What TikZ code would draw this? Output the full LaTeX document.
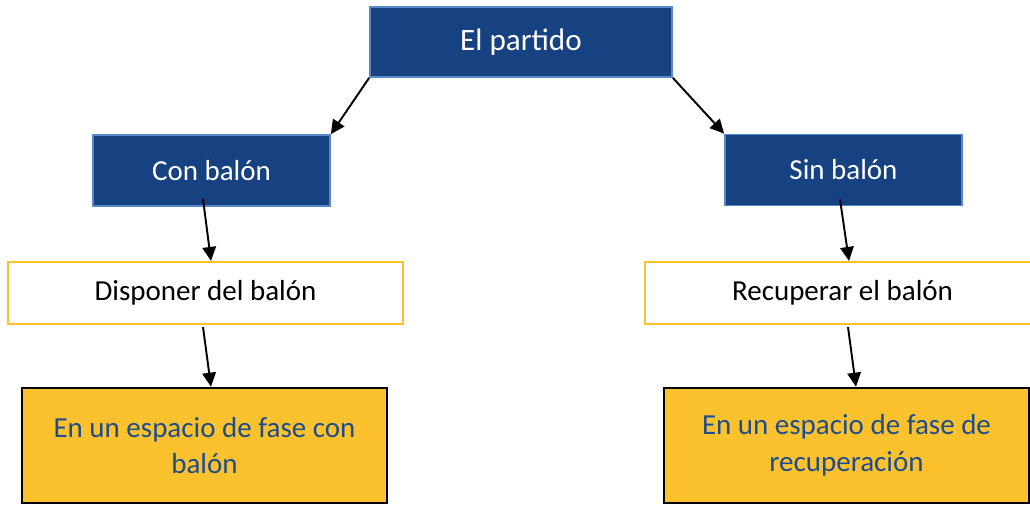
\documentclass[tikz,border=0pt]{standalone}
\usepackage{fontspec}
\setmainfont{Carlito}
\usetikzlibrary{arrows.meta}
\definecolor{boxblue}{RGB}{23,66,130}
\definecolor{boxblueline}{RGB}{88,136,200}
\definecolor{gold}{RGB}{251,194,45}
\definecolor{goldtext}{RGB}{30,76,140}
\begin{document}
\begin{tikzpicture}[-{Triangle[length=0.28cm,width=0.27cm]}, line width=1.1pt,
    main box/.style={rectangle, draw=boxblueline, line width=1pt, fill=boxblue, text=white, inner sep=0pt},
    sub box/.style={main box, minimum width=4.74cm, minimum height=1.42cm},
    action box/.style={rectangle, draw=gold, line width=1.2pt, fill=white, inner sep=0pt, minimum width=7.9cm, minimum height=1.24cm},
    phase box/.style={rectangle, draw=black, line width=1.5pt, fill=gold, text=goldtext, inner sep=0pt, minimum width=7.3cm, minimum height=2.3cm, align=center}]
           \tikzstyle{every node}=[font=\fontsize{16.5}{21}\selectfont]
           \useasboundingbox (0,0) rectangle (20.6,-10.1);

             \node[main box, minimum width=6.04cm, minimum height=1.4cm, font=\fontsize{17.7}{21}\selectfont] (1) at (10.42,-0.84) {El partido};
             \node[sub box] (2) [below of=1, node distance=2.57cm, xshift=-6.19cm] {Con balón};
             \node[sub box] (3) [below of=1, node distance=2.56cm, xshift=6.45cm] {Sin balón};
             \node[action box] (4) [below of=2, node distance=2.45cm, xshift=-0.12cm] {Disponer del balón};
             \node[action box] (5) [below of=3, node distance=2.46cm, xshift=-0.02cm] {Recuperar el balón};
             \node[phase box] (6) [below of=4, node distance=3.05cm, xshift=-0.02cm] {En un espacio de fase con\\balón};
             \node[phase box] (7) [below of=5, node distance=3.05cm, xshift=0.08cm] {En un espacio de fase de\\recuperación};

             \path
               (1.south west) edge (2.north east)
               (1.south east) edge (3.north west)
               ([xshift=-0.17cm, yshift=0.16cm]2.south) edge ([xshift=0.11cm]4.north)
               ([xshift=-0.05cm, yshift=-0.04cm]4.south) edge ([xshift=0.13cm]6.north)
               ([xshift=-0.07cm, yshift=0.14cm]3.south) edge ([xshift=0.13cm]5.north)
               ([xshift=0.11cm, yshift=-0.04cm]5.south) edge ([xshift=0.19cm]7.north);

           \end{tikzpicture}
\end{document}
